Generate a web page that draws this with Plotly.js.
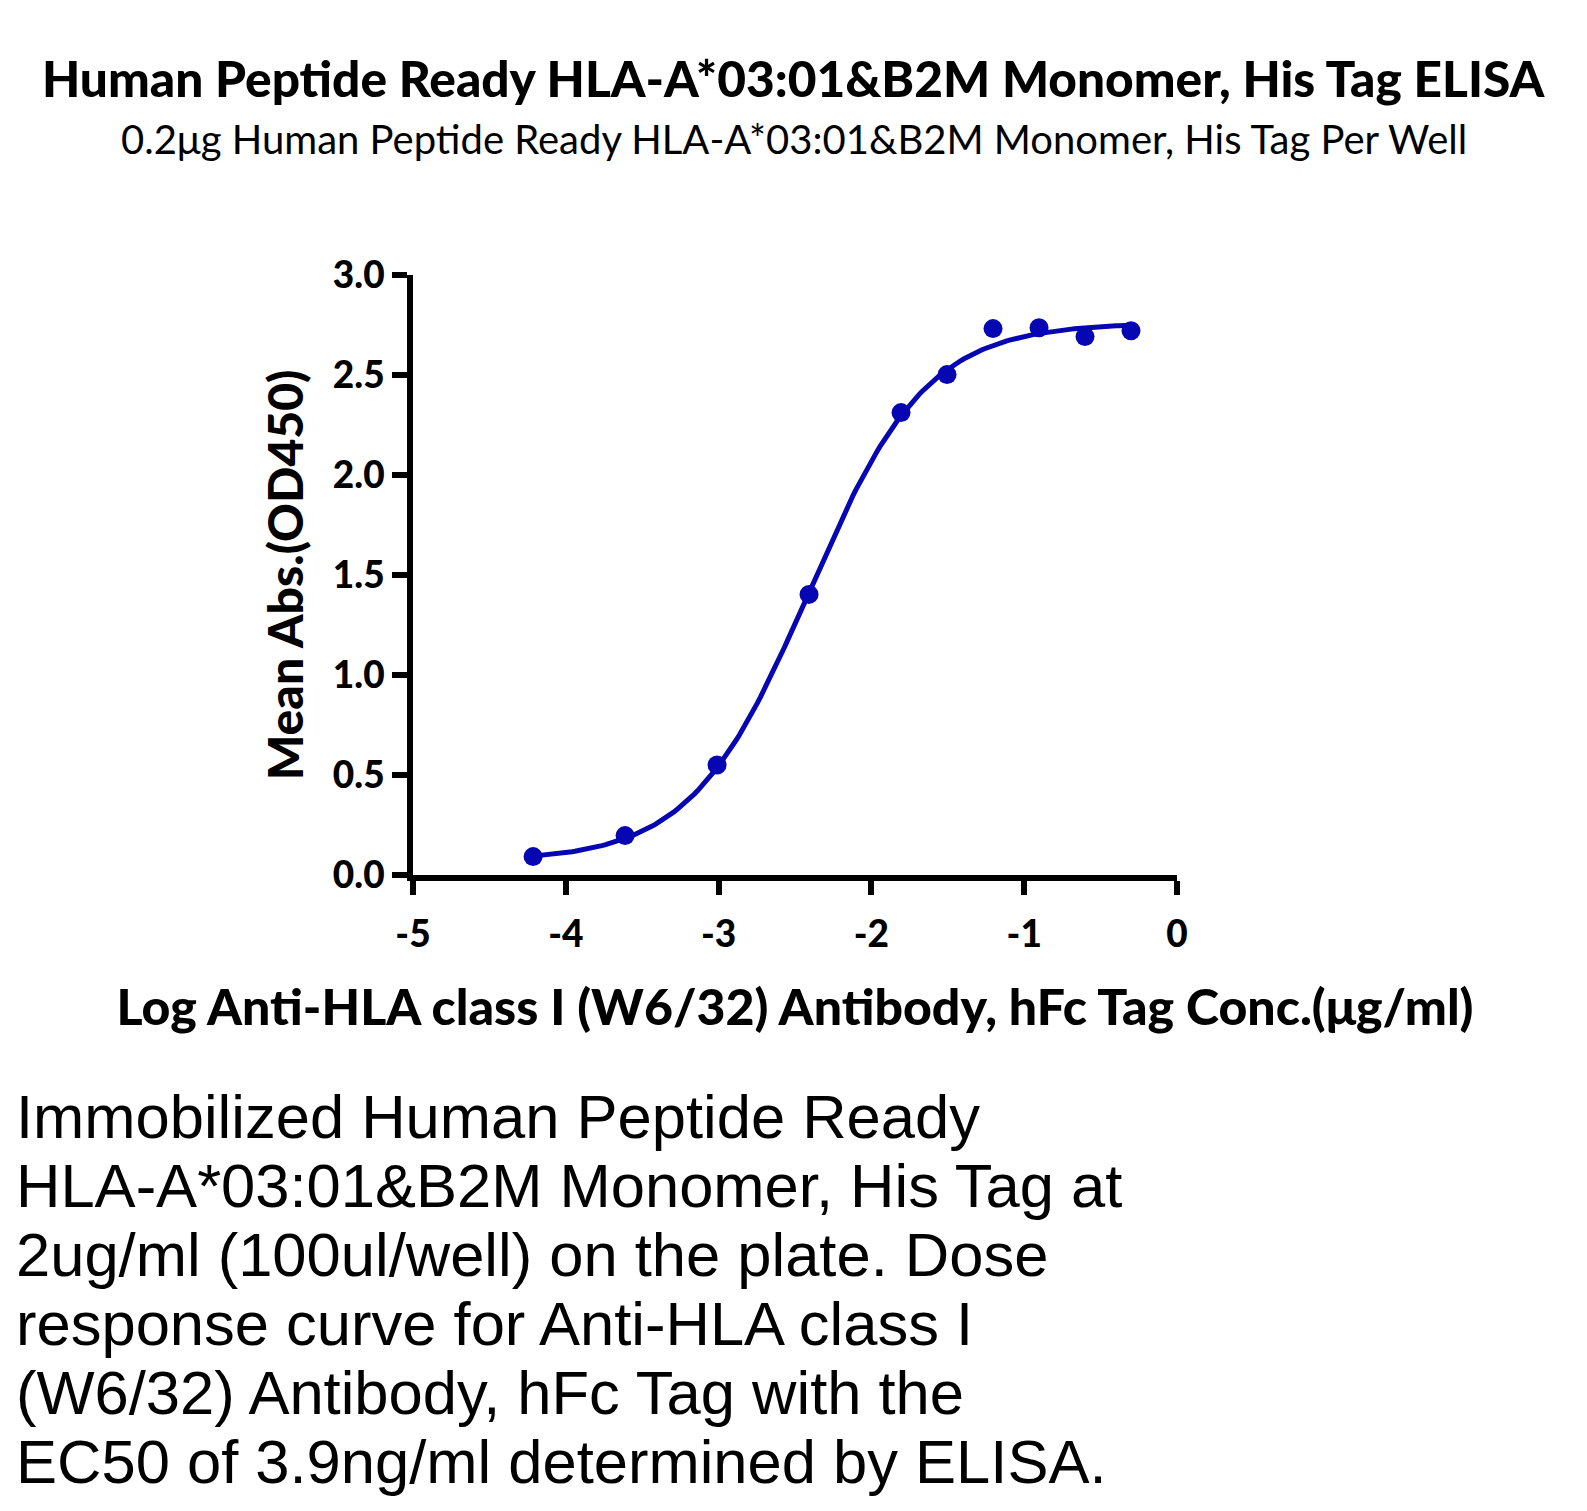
<!DOCTYPE html>
<html>
<head>
<meta charset="utf-8">
<script src="https://cdn.plot.ly/plotly-3.0.1.min.js"></script>
<style>
  html, body { margin: 0; padding: 0; background: #ffffff; }
  #chart { width: 1587px; height: 1511px; }
</style>
</head>
<body>
<div id="chart"></div>
<script>
// Log10 antibody concentration (µg/ml) for each dilution step
const logConc = [-4.214, -3.612, -3.010, -2.408, -1.806, -1.505, -1.204, -0.903, -0.602, -0.301];
// Mean absorbance at 450 nm
const meanAbs = [0.092, 0.197, 0.550, 1.403, 2.312, 2.502, 2.732, 2.736, 2.692, 2.721];

// Four-parameter logistic fit (EC50 = 3.9 ng/ml = 0.0039 µg/ml)
const fitBottom = 0.07;
const fitTop = 2.76;
const fitEC50 = 0.0039;
const fitHill = 1.13;

// Axis tick labels
const xTickVals = [-5, -4, -3, -2, -1, 0];
const xTickText = ["-5", "-4", "-3", "-2", "-1", "0"];
const yTickVals = [0, 0.5, 1.0, 1.5, 2.0, 2.5, 3.0];
const yTickText = ["0.0", "0.5", "1.0", "1.5", "2.0", "2.5", "3.0"];

const titleText = "Human Peptide Ready HLA-A*03:01&B2M Monomer, His Tag ELISA";
const subtitleText = "0.2μg Human Peptide Ready HLA-A*03:01&B2M Monomer, His Tag Per Well";
const xTitleText = "Log Anti-HLA class I (W6/32) Antibody, hFc Tag Conc.(μg/ml)";
const yTitleText = "Mean Abs.(OD450)";
const captionLines = [
  "Immobilized Human Peptide Ready",
  "HLA-A*03:01&B2M Monomer, His Tag at",
  "2ug/ml (100ul/well) on the plate. Dose",
  "response curve for Anti-HLA class I",
  "(W6/32) Antibody, hFc Tag with the",
  "EC50 of 3.9ng/ml determined by ELISA."
];

// Sample the fitted curve across the measured concentration span
const logEC50 = Math.log10(fitEC50);
const curveX = [];
const curveY = [];
const nSteps = 200;
const xStart = logConc[0], xEnd = logConc[logConc.length - 1];
for (let i = 0; i <= nSteps; i++) {
  const x = xStart + (xEnd - xStart) * i / nSteps;
  curveX.push(x);
  curveY.push(fitBottom + (fitTop - fitBottom) / (1 + Math.pow(10, (logEC50 - x) * fitHill)));
}

const blue = "#0606b3";
const fontFamily = "Lato, 'Noto Sans', sans-serif";
const captionFamily = "'Liberation Sans', Arial, sans-serif";

const traces = [
  {
    x: curveX, y: curveY, type: "scatter", mode: "lines",
    line: { color: blue, width: 5 }, hoverinfo: "skip", showlegend: false
  },
  {
    x: logConc, y: meanAbs, type: "scatter", mode: "markers",
    marker: { color: blue, size: 19 }, showlegend: false
  }
];

// Plot area in page pixels
const L = 413, R = 1177, T = 275, B = 875;
const W = 1587, H = 1511;
const px = v => (v - L) / (R - L);
const py = v => (B - v) / (B - T);

const annotations = [
  {
    text: titleText, xref: "paper", yref: "paper",
    x: px(794), y: py(78), xanchor: "center", yanchor: "middle", showarrow: false,
    font: { family: fontFamily, size: 49.6, color: "#000", weight: 900 }
  },
  {
    text: subtitleText, xref: "paper", yref: "paper",
    x: px(794), y: py(139), xanchor: "center", yanchor: "middle", showarrow: false,
    font: { family: fontFamily, size: 40, color: "#000" }
  }
];
captionLines.forEach((line, i) => {
  annotations.push({
    text: line, xref: "paper", yref: "paper",
    x: px(14), y: py(1116 + i * 69), xanchor: "left", yanchor: "middle", showarrow: false,
    font: { family: captionFamily, size: 61.5, color: "#000" }
  });
});

const layout = {
  width: W, height: H,
  paper_bgcolor: "#ffffff", plot_bgcolor: "#ffffff",
  margin: { l: L, r: W - R, t: T, b: H - B, pad: 0 },
  showlegend: false,
  xaxis: {
    range: [-5, 0], tickvals: xTickVals, ticktext: xTickText,
    showgrid: false, zeroline: false, showline: true, linecolor: "#000", linewidth: 6,
    ticks: "outside", ticklen: 14, tickwidth: 6, tickcolor: "#000",
    ticklabelstandoff: 8,
    tickfont: { family: fontFamily, size: 37, color: "#000", weight: 900 },
    title: { text: xTitleText, standoff: 38,
      font: { family: fontFamily, size: 50, color: "#000", weight: 900 } }
  },
  yaxis: {
    range: [0, 3], tickvals: yTickVals, ticktext: yTickText,
    showgrid: false, zeroline: false, showline: true, linecolor: "#000", linewidth: 6,
    ticks: "outside", ticklen: 15, tickwidth: 6, tickcolor: "#000",
    ticklabelstandoff: 0,
    tickfont: { family: fontFamily, size: 37, color: "#000", weight: 900 },
    title: { text: yTitleText, standoff: 16,
      font: { family: fontFamily, size: 48, color: "#000", weight: 900 } }
  },
  annotations: annotations
};

Plotly.newPlot("chart", traces, layout, { displayModeBar: false, staticPlot: true });
</script>
</body>
</html>
